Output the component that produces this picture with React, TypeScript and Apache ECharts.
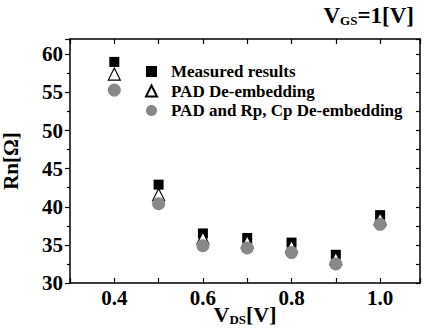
import React, { useEffect, useRef } from "react";
import * as echarts from "echarts";

const vds = [0.4, 0.5, 0.6, 0.7, 0.8, 0.9, 1.0];
const measured = [59.0, 42.9, 36.5, 35.9, 35.3, 33.7, 38.9];
const padDeembed = [57.4, 41.6, 35.9, 35.4, 34.8, 33.2, 38.4];
const padRpCp = [55.3, 40.4, 34.9, 34.6, 34.0, 32.5, 37.7];
const seriesNames = ["Measured results", "PAD De-embedding", "PAD and Rp, Cp De-embedding"];

const FONT = "Liberation Serif, Times New Roman, Tinos, Nimbus Roman, serif";

const pts = (ys: number[]) => vds.map((x, i) => [x, ys[i]]);

export default function App() {
  const ref = useRef<HTMLDivElement>(null);
  useEffect(() => {
    if (!ref.current) return;
    const chart = echarts.init(ref.current, null, { renderer: "svg" });
    const axisLine = { show: true, lineStyle: { color: "#000", width: 1.5 } };
    chart.setOption({
      animation: false,
      backgroundColor: "#fff",
      textStyle: { fontFamily: FONT, color: "#000" },
      grid: { left: 70, right: 4, top: 39, bottom: 47, containLabel: false, outerBoundsMode: "none" },
      legend: {
        orient: "vertical",
        left: 140,
        top: 58,
        itemWidth: 11,
        itemHeight: 11,
        itemGap: 2.5,
        data: seriesNames,
        textStyle: {
          fontFamily: FONT,
          fontWeight: "bold",
          fontSize: 17,
          color: "#000",
          padding: [0, 0, 0, 9],
        },
      },
      graphic: [
        {
          type: "text",
          right: 10,
          top: 4,
          style: {
            text: "{m|V}{s|GS}{m|=1[V]}",
            fontFamily: FONT,
            rich: {
              m: { fontFamily: FONT, fontWeight: "bold", fontSize: 23, fill: "#000" },
              s: { fontFamily: FONT, fontWeight: "bold", fontSize: 13, fill: "#000", padding: [10, 0, 0, 0] },
            },
          },
        },
      ],
      xAxis: [
        {
          type: "value",
          min: 0.3,
          max: 1.09,
          interval: 0.1,
          position: "bottom",
          name: "{m|V}{s|DS}{m|[V]}",
          nameLocation: "middle",
          nameGap: 20,
          nameMoveOverlap: false,
          nameTextStyle: {
            rich: {
              m: { fontFamily: FONT, fontWeight: "bold", fontSize: 22, color: "#000" },
              s: { fontFamily: FONT, fontWeight: "bold", fontSize: 13, color: "#000", padding: [10, 0, 0, 0] },
            },
          },
          axisLine,
          axisTick: { show: true, inside: true, length: 5, lineStyle: { color: "#000", width: 1.2 } },
          axisLabel: {
            margin: 4,
            fontFamily: FONT,
            fontWeight: "bold",
            fontSize: 21,
            color: "#000",
            formatter: (v: number) => (Math.round(v * 10) % 2 === 0 ? v.toFixed(1) : ""),
          },
          splitLine: { show: false },
        },
        {
          type: "value",
          min: 0.3,
          max: 1.09,
          interval: 0.1,
          position: "top",
          axisLine,
          axisTick: { show: true, inside: true, length: 5, lineStyle: { color: "#000", width: 1.2 } },
          axisLabel: { show: false },
          splitLine: { show: false },
        },
      ],
      yAxis: [
        {
          type: "value",
          min: 30,
          max: 62,
          interval: 5,
          position: "left",
          name: "Rn[Ω]",
          nameLocation: "middle",
          nameGap: 49,
          nameMoveOverlap: false,
          nameRotate: 90,
          nameTextStyle: { fontFamily: FONT, fontWeight: "bold", fontSize: 21, color: "#000" },
          axisLine,
          axisTick: { show: true, inside: false, length: 5, lineStyle: { color: "#000", width: 1.2 } },
          minorTick: { show: true, splitNumber: 2, length: 3, lineStyle: { color: "#000", width: 1.2 } },
          axisLabel: { margin: 7, fontFamily: FONT, fontWeight: "bold", fontSize: 21, color: "#000" },
          splitLine: { show: false },
        },
        {
          type: "value",
          min: 30,
          max: 62,
          interval: 2.5,
          position: "right",
          axisLine,
          axisTick: { show: true, inside: true, length: 4, lineStyle: { color: "#000", width: 1.2 } },
          axisLabel: { show: false },
          splitLine: { show: false },
        },
      ],
      series: [
        {
          name: seriesNames[0],
          type: "scatter",
          symbol: "rect",
          symbolSize: 10,
          itemStyle: { color: "#000", opacity: 1 },
          data: pts(measured),
          z: 2,
        },
        {
          name: seriesNames[1],
          type: "scatter",
          symbol: "triangle",
          symbolSize: 12,
          itemStyle: { color: "#fff", borderColor: "#000", borderWidth: 1.2, opacity: 1 },
          data: pts(padDeembed),
          z: 3,
        },
        {
          name: seriesNames[2],
          type: "scatter",
          symbol: "circle",
          symbolSize: 13,
          itemStyle: { color: "#888", opacity: 1 },
          data: pts(padRpCp),
          z: 4,
        },
      ],
    });
    return () => chart.dispose();
  }, []);
  return <div ref={ref} style={{ width: 424, height: 330, position: "absolute", left: 0, top: 0 }} />;
}
